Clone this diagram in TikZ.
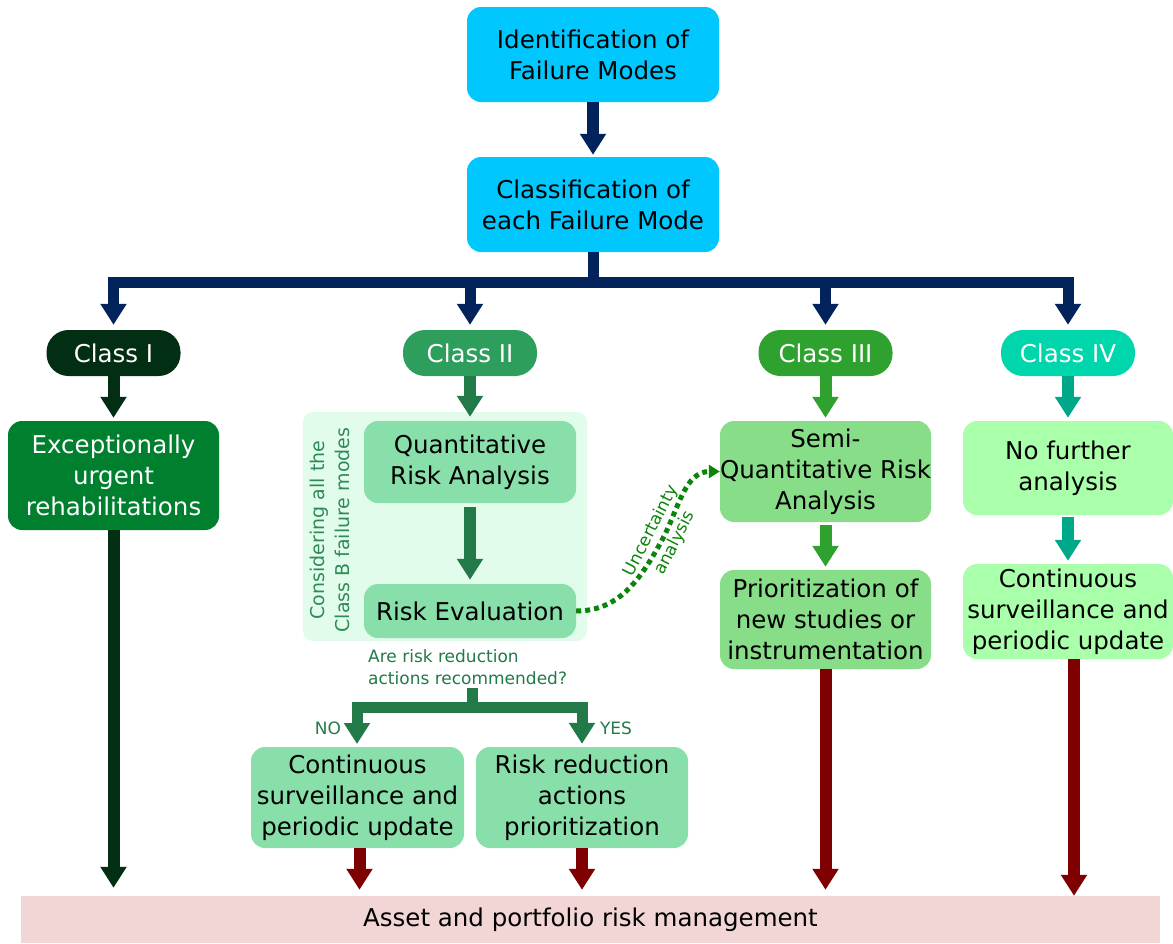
\documentclass[tikz,border=0pt]{standalone}
\usepackage{fontspec}
\setmainfont{DejaVu Sans}
\usetikzlibrary{arrows.meta}
\definecolor{cyanbox}{HTML}{00C8FF}
\definecolor{navy}{HTML}{03235C}
\definecolor{cone}{HTML}{022E14}
\definecolor{ctwo}{HTML}{2E9E5D}
\definecolor{cthree}{HTML}{2FA12F}
\definecolor{cfour}{HTML}{00D6AC}
\definecolor{atwo}{HTML}{217A47}
\definecolor{afour}{HTML}{00A88A}
\definecolor{boxone}{HTML}{00802F}
\definecolor{panel}{HTML}{E2FCEB}
\definecolor{boxtwo}{HTML}{88DFAA}
\definecolor{boxthree}{HTML}{88DD88}
\definecolor{boxfour}{HTML}{AAFFAA}
\definecolor{darkred}{HTML}{7F0000}
\definecolor{bottomc}{HTML}{F2D6D6}
\definecolor{dotc}{HTML}{0A850A}
\definecolor{seag}{HTML}{2E8B57}
\begin{document}
\begin{tikzpicture}[x=1pt,y=-1pt,
  box/.style={rectangle, rounded corners=14pt, inner sep=0pt, align=center,
    font=\fontsize{24.5}{31}\selectfont, text=black},
  pill/.style={rectangle, rounded corners=22pt, minimum width=134pt, minimum height=46pt,
    inner sep=0pt, text=white, font=\fontsize{24.5}{31}\selectfont},
  fat/.style={line width=12pt, -{Triangle[width=25pt,length=21pt]}},
  small/.style={font=\fontsize{17}{22}\selectfont, inner sep=0pt}
]
\useasboundingbox (0,0) rectangle (1173,943);

% top boxes
\node[box, fill=cyanbox, minimum width=252pt, minimum height=95pt] (id) at (593,54.5) {Identification of\\Failure Modes};
\node[box, fill=cyanbox, minimum width=252pt, minimum height=95pt] (cl) at (593,204.5) {Classification of\\each Failure Mode};
\draw[fat, navy, shorten >=2pt] (id) -- (cl);

% class pills
\node[pill, fill=cone]   (c1) at (113.5,353) {Class I};
\node[pill, fill=ctwo]   (c2) at (470,353) {Class II};
\node[pill, fill=cthree] (c3) at (825.5,353) {Class III};
\node[pill, fill=cfour]  (c4) at (1068,353) {Class IV};

% branching bar
\coordinate (bar) at (593,282);
\draw[navy, line width=11pt] (cl.south) -- (bar);
\draw[navy, line width=11pt, line cap=rect] (c1.north |- bar) -- (c4.north |- bar);
\foreach \c in {c1,c2,c3,c4}
  \draw[fat, navy, line width=11pt, shorten >=5pt] (\c.north |- bar) -- (\c.north);

% bottom bar
\node[rectangle, fill=bottomc, minimum width=1139pt, minimum height=47pt, inner sep=0pt,
  font=\fontsize{24.5}{31}\selectfont] (bot) at (590.5,919.5) {Asset and portfolio risk management};

% Class I
\node[box, fill=boxone, text=white, minimum width=211pt, minimum height=109pt] (b1) at (113.5,475.5)
  {Exceptionally\\urgent\\rehabilitations};
\draw[fat, cone, shorten >=3pt] (c1) -- (b1);
\draw[fat, cone, shorten >=8pt] (b1) -- (b1 |- bot.north);

% Class II
\node[rectangle, rounded corners=10pt, fill=panel, minimum width=284pt, minimum height=229pt, inner sep=0pt]
  (pan) at (445,526.5) {};
\node[box, fill=boxtwo, minimum width=212pt, minimum height=82pt] (qra) at (470,462) {Quantitative\\Risk Analysis};
\node[box, fill=boxtwo, minimum width=212pt, minimum height=54pt] (re) at (470,611) {Risk Evaluation};
\node[rotate=90, align=center, text=seag, font=\fontsize{19}{25}\selectfont, inner sep=0pt]
  (cons) at (330,530) {Considering all the\\Class B failure modes};
\draw[fat, atwo, shorten >=4pt] (c2) -- (qra);
\draw[fat, atwo, shorten <=4pt, shorten >=4pt] (qra) -- (re);

\node[small, text=atwo, align=left, anchor=north west] (q) at (368,649) {Are risk reduction\\actions recommended?};
\coordinate (qs) at (472,688);
\node[box, fill=boxtwo, minimum width=213pt, minimum height=101pt] (cs2) at (357.5,797.5)
  {Continuous\\surveillance and\\periodic update};
\node[box, fill=boxtwo, minimum width=212pt, minimum height=101pt] (rr) at (582,797.5)
  {Risk reduction\\actions\\prioritization};
\coordinate (qb) at (472,707);
\draw[atwo, line width=11pt] (qs) -- (qb);
\draw[atwo, line width=11pt, line cap=rect] (qb -| 357,0) -- (qb -| rr.north);
\draw[fat, atwo, line width=11pt, shorten >=3pt] (qb -| 357,0) -- (357,747);
\draw[fat, atwo, line width=11pt, shorten >=3pt] (qb -| rr.north) -- (rr.north);
\node[small, text=atwo] (no) at (328,728) {NO};
\node[small, text=atwo] (yes) at (616,728) {YES};
\draw[fat, darkred, shorten >=6pt] ([xshift=2pt]cs2.south) -- ([xshift=2pt]cs2.south |- bot.north);
\draw[fat, darkred, shorten >=6pt] (rr.south) -- (rr.south |- bot.north);

% Class III
\node[box, fill=boxthree, minimum width=211pt, minimum height=101pt] (sq) at (825.5,471.5)
  {Semi-\\Quantitative Risk\\Analysis};
\node[box, fill=boxthree, minimum width=211pt, minimum height=99pt] (pn) at (825.5,619.5)
  {Prioritization of\\new studies or\\instrumentation};
\draw[fat, cthree, shorten >=3pt] (c3) -- (sq);
\draw[fat, cthree, shorten <=3pt, shorten >=3pt] (sq) -- (pn);
\draw[fat, darkred, shorten >=6pt] (pn) -- (pn.south |- bot.north);

% Class IV
\node[box, fill=boxfour, minimum width=210pt, minimum height=94pt] (nf) at (1068,468)
  {No further\\analysis};
\node[box, fill=boxfour, minimum width=210pt, minimum height=95pt] (cs4) at (1068,611.5)
  {Continuous\\surveillance and\\periodic update};
\draw[fat, afour, shorten >=3pt] (c4) -- (nf);
\draw[fat, afour, shorten <=2pt, shorten >=3pt] (nf) -- (cs4);
\draw[fat, darkred] ([xshift=6pt]cs4.south) -- ([xshift=6pt]cs4.south |- bot.north);

% uncertainty
\coordinate (um) at (661,542);
\draw[dotc, line width=5pt, dash pattern=on 5pt off 4pt, -{Triangle[width=13pt,length=11pt]}]
  (re.east) to[out=0,in=-119] (um) to[out=61,in=180] (sq.west);
\node[rotate=63, align=center, text=dotc, font=\fontsize{17}{27}\selectfont, inner sep=0pt]
  (unc) at (663,537) {Uncertainty\\analysis};
\end{tikzpicture}
\end{document}
